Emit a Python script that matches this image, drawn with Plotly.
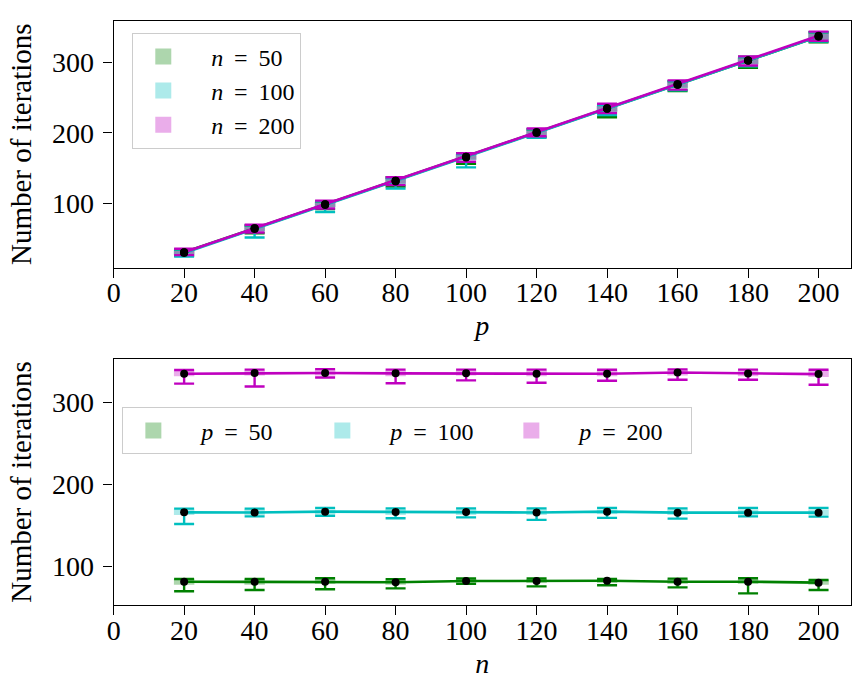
import plotly.graph_objects as go

# ---------------- data ----------------
p_vals = [20, 40, 60, 80, 100, 120, 140, 160, 180, 200]
n_vals = [20, 40, 60, 80, 100, 120, 140, 160, 180, 200]

# top panel: iterations vs p for several n
top_labels = ["n = 50", "n = 100", "n = 200"]
n50_mean = [31, 65, 99, 132, 166, 200, 234, 268, 302, 336]
n50_q1 = [28, 61, 95, 128, 162, 196, 230, 263, 297, 331]
n50_q3 = [34, 68, 102, 136, 170, 204, 238, 272, 306, 341]
n50_min = [26, 58, 92, 124, 156, 194, 222, 259, 292, 328]
n50_max = [35, 69, 103, 137, 171, 205, 240, 273, 307, 342]

n100_mean = [30, 64, 98, 131, 165, 200, 234, 268, 302, 336]
n100_q1 = [27, 60, 94, 127, 161, 196, 229, 263, 297, 331]
n100_q3 = [34, 68, 102, 135, 169, 204, 238, 272, 306, 340]
n100_min = [25, 52, 88, 121, 151, 193, 225, 260, 294, 329]
n100_max = [35, 69, 103, 136, 170, 205, 239, 273, 307, 342]

n200_mean = [31, 65, 99, 132, 166, 201, 235, 269, 302, 337]
n200_q1 = [28, 61, 95, 128, 162, 197, 230, 264, 297, 332]
n200_q3 = [35, 69, 103, 136, 170, 205, 240, 273, 307, 342]
n200_min = [27, 59, 93, 126, 159, 195, 228, 261, 295, 330]
n200_max = [36, 70, 104, 137, 171, 206, 241, 274, 308, 343]

# bottom panel: iterations vs n for several p
bot_labels = ["p = 50", "p = 100", "p = 200"]
p50_mean = [81.7, 81.7, 81.7, 81.0, 82.5, 82.5, 82.8, 81.7, 81.7, 80.5]
p50_q1 = [78, 78, 79, 78, 80, 80, 80, 79, 79, 78]
p50_q3 = [85, 85, 85, 84, 85, 85, 85, 85, 85, 84]
p50_min = [70.0, 71.6, 72.4, 73.6, 79.0, 76.0, 77.3, 74.8, 67.5, 71.6]
p50_max = [85.0, 85.0, 85.8, 84.6, 85.5, 85.5, 85.0, 85.4, 85.8, 83.8]

p100_mean = [166.2, 166.0, 167.0, 166.5, 166.5, 166.0, 167.0, 165.8, 165.8, 165.8]
p100_q1 = [163, 163, 164, 163, 163, 163, 164, 163, 163, 163]
p100_q3 = [170, 170, 170, 170, 170, 170, 170, 170, 170, 170]
p100_min = [152.0, 161.3, 162.0, 159.0, 160.0, 157.0, 159.4, 158.5, 161.3, 161.0]
p100_max = [170.7, 170.7, 171.6, 171.0, 171.0, 171.0, 171.6, 171.0, 171.6, 171.6]

p200_mean = [335.0, 335.8, 336.0, 335.5, 335.5, 335.0, 335.0, 336.6, 335.4, 334.6]
p200_q1 = [332, 333, 333, 332, 333, 332, 332, 333, 332, 331]
p200_q3 = [339, 339, 340, 339, 339, 339, 339, 340, 339, 339]
p200_min = [323.0, 319.5, 330.5, 323.5, 327.0, 324.0, 326.5, 327.7, 327.7, 321.6]
p200_max = [339.6, 340.0, 340.7, 340.0, 340.0, 340.0, 339.9, 340.3, 340.0, 339.9]

x_ticks = [0, 20, 40, 60, 80, 100, 120, 140, 160, 180, 200]

# ---------------- style ----------------
COLORS = ["#008000", "#00bfbf", "#bf00bf"]
FILLS = ["rgba(0,128,0,0.32)", "rgba(0,191,191,0.32)", "rgba(191,0,191,0.32)"]
FONT = "Liberation Serif"
BOX_W = 5.8

fig = go.Figure()


def add_panel(xs, series, labels, xa, ya, legend_name):
    # boxes
    for i, (mean, q1, q3, lo, hi) in enumerate(series):
        fig.add_trace(go.Bar(
            x=xs, y=[b - a for a, b in zip(q1, q3)], base=q1,
            width=BOX_W, marker=dict(color=FILLS[i], line=dict(width=0)),
            xaxis=xa, yaxis=ya, showlegend=False, hoverinfo="skip"))
    # lines with min/max whiskers
    for i, (mean, q1, q3, lo, hi) in enumerate(series):
        fig.add_trace(go.Scatter(
            x=xs, y=mean, mode="lines",
            line=dict(color=COLORS[i], width=2.6),
            error_y=dict(type="data", symmetric=False,
                         array=[h - m for h, m in zip(hi, mean)],
                         arrayminus=[m - l for m, l in zip(mean, lo)],
                         color=COLORS[i], thickness=2.4, width=10),
            xaxis=xa, yaxis=ya, showlegend=False, hoverinfo="skip"))
    # mean markers
    for i, (mean, q1, q3, lo, hi) in enumerate(series):
        fig.add_trace(go.Scatter(
            x=xs, y=mean, mode="markers",
            marker=dict(color="black", size=8),
            xaxis=xa, yaxis=ya, showlegend=False, hoverinfo="skip"))
    # legend entries
    for i, lab in enumerate(labels):
        sym, val = lab.split(" = ")
        fig.add_trace(go.Scatter(
            x=[None], y=[None], mode="markers",
            marker=dict(symbol="square", size=16, color=FILLS[i], line=dict(width=0)),
            name="&nbsp;&nbsp;&nbsp;<i>%s</i> \u2009=\u2009 %s" % (sym, val),
            xaxis=xa, yaxis=ya, legend=legend_name, showlegend=True))


add_panel(p_vals,
          [(n50_mean, n50_q1, n50_q3, n50_min, n50_max),
           (n100_mean, n100_q1, n100_q3, n100_min, n100_max),
           (n200_mean, n200_q1, n200_q3, n200_min, n200_max)],
          top_labels, "x", "y", "legend")
add_panel(n_vals,
          [(p50_mean, p50_q1, p50_q3, p50_min, p50_max),
           (p100_mean, p100_q1, p100_q3, p100_min, p100_max),
           (p200_mean, p200_q1, p200_q3, p200_min, p200_max)],
          bot_labels, "x2", "y2", "legend2")

W, H = 866, 695
xdom = [107.5 / W, 850.5 / W]
ydom_top = [1 - 267.5 / H, 1 - 21 / H]
ydom_bot = [1 - 605 / H, 1 - 359 / H]

axis_common = dict(showline=True, linecolor="black", linewidth=1.3, mirror=True,
                   ticks="outside", ticklen=9, tickwidth=1.3, tickcolor="black",
                   showgrid=False, zeroline=False,
                   tickfont=dict(family=FONT, size=28, color="black"))
xcommon = dict(ticklabelstandoff=-9, **axis_common)
ycommon = dict(ticklabelstandoff=4, **axis_common)

fig.update_layout(
    width=W, height=H,
    margin=dict(l=0, r=0, t=0, b=0),
    paper_bgcolor="white", plot_bgcolor="white",
    barmode="overlay",
    font=dict(family=FONT, color="black"),
    xaxis=dict(domain=xdom, anchor="y", range=[0, 209.1], tickvals=x_ticks,
               title=dict(text="<i>p</i>", font=dict(family=FONT, size=28), standoff=8),
               **xcommon),
    yaxis=dict(domain=ydom_top, anchor="x", range=[9.5, 358], tickvals=[100, 200, 300],
               title=dict(text="Number of iterations", font=dict(family=FONT, size=29), standoff=11),
               **ycommon),
    xaxis2=dict(domain=xdom, anchor="y2", range=[0, 209.1], tickvals=x_ticks,
                title=dict(text="<i>n</i>", font=dict(family=FONT, size=28), standoff=8),
                **xcommon),
    yaxis2=dict(domain=ydom_bot, anchor="x2", range=[53.3, 353], tickvals=[100, 200, 300],
                title=dict(text="Number of iterations", font=dict(family=FONT, size=29), standoff=11),
                **ycommon),
    legend=dict(x=126 / W, y=1 - 33 / H, xanchor="left", yanchor="top",
                bgcolor="white", bordercolor="#cccccc", borderwidth=1.3,
                font=dict(family=FONT, size=24), itemsizing="trace",
                itemwidth=50, tracegroupgap=0),
    legend2=dict(x=116 / W, y=1 - 407 / H, xanchor="left", yanchor="top",
                 orientation="h", entrywidth=124,
                 bgcolor="white", bordercolor="#cccccc", borderwidth=1.3,
                 font=dict(family=FONT, size=24), itemsizing="trace",
                 itemwidth=50),
)

fig.write_html("out.html")
